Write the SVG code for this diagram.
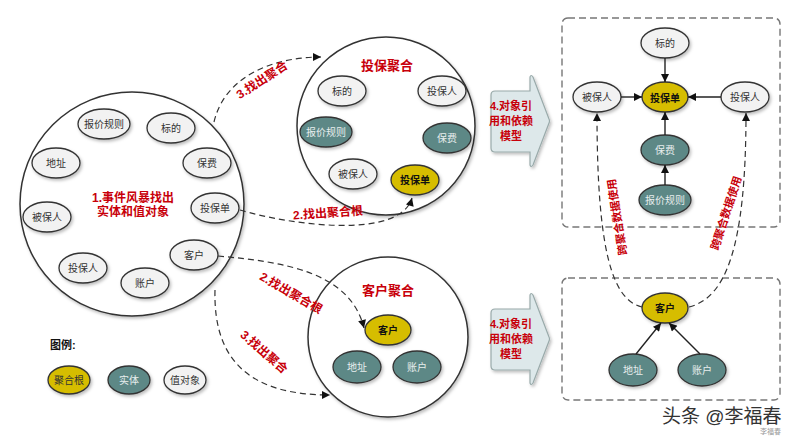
<svg xmlns="http://www.w3.org/2000/svg" width="800" height="438" viewBox="0 0 800 438">
<defs>
<filter id="sh" x="-20%" y="-20%" width="150%" height="150%">
<feDropShadow dx="1.5" dy="2" stdDeviation="1.5" flood-color="#000" flood-opacity="0.25"/>
</filter>
<marker id="arr" viewBox="0 0 10 10" refX="10" refY="5" markerWidth="9" markerHeight="8" markerUnits="userSpaceOnUse" orient="auto">
<path d="M0,0 L10,5 L0,10 z" fill="#111"/>
</marker>
<style>
text{font-family:"Liberation Sans","Noto Sans CJK SC",sans-serif;text-anchor:middle}
.v{fill:#f2f2f2;stroke:#333;stroke-width:1.3}
.e{fill:#5d8886;stroke:#333;stroke-width:1.3}
.r{fill:#d6bd00;stroke:#333;stroke-width:1.3}
.t{font-size:10px;fill:#333}
.te{font-size:10px;fill:#e8eeee}
.tr{font-size:10px;fill:#111;font-weight:bold}
.big{fill:#fff;stroke:#333;stroke-width:1.5}
.red{fill:#c8000a;font-weight:bold}
.dash{fill:none;stroke:#333;stroke-width:1.2;stroke-dasharray:6 4}
.solid{fill:none;stroke:#222;stroke-width:1.4}
.box{fill:#fff;stroke:#777;stroke-width:1.4;stroke-dasharray:7 4}
.pent{fill:#dde8ea;stroke:#9aa;stroke-width:1.2}
</style>
</defs>
<rect width="800" height="438" fill="#fff"/>

<!-- Big event storming circle -->
<g id="event-storm">
<circle class="big" cx="132" cy="204" r="112" filter="url(#sh)"/>
<text class="red" x="133" y="202" font-size="12">1.事件风暴找出</text>
<text class="red" x="133" y="216" font-size="12">实体和值对象</text>
</g>
<g id="es-baojiaguize"><ellipse class="v" cx="104" cy="124" rx="26" ry="15" filter="url(#sh)"/><text class="t" x="104" y="128">报价规则</text></g>
<g id="es-biaodi"><ellipse class="v" cx="171" cy="128" rx="24" ry="15" filter="url(#sh)"/><text class="t" x="171" y="132">标的</text></g>
<g id="es-dizhi"><ellipse class="v" cx="56" cy="163" rx="24" ry="15" filter="url(#sh)"/><text class="t" x="56" y="167">地址</text></g>
<g id="es-baofei"><ellipse class="v" cx="207" cy="163" rx="24" ry="15" filter="url(#sh)"/><text class="t" x="207" y="167">保费</text></g>
<g id="es-beibaoren"><ellipse class="v" cx="47" cy="217" rx="24" ry="15" filter="url(#sh)"/><text class="t" x="47" y="221">被保人</text></g>
<g id="es-toubaodan"><ellipse class="v" cx="215" cy="208" rx="24" ry="15" filter="url(#sh)"/><text class="t" x="215" y="212">投保单</text></g>
<g id="es-kehu"><ellipse class="v" cx="194" cy="255" rx="24" ry="15" filter="url(#sh)"/><text class="t" x="194" y="259">客户</text></g>
<g id="es-toubaoren"><ellipse class="v" cx="83" cy="268" rx="24" ry="15" filter="url(#sh)"/><text class="t" x="83" y="272">投保人</text></g>
<g id="es-zhanghu"><ellipse class="v" cx="145" cy="283" rx="24" ry="15" filter="url(#sh)"/><text class="t" x="145" y="287">账户</text></g>

<!-- Policy aggregate -->
<g id="policy-aggregate">
<circle class="big" cx="386" cy="126" r="89" filter="url(#sh)"/>
<text class="red" x="387" y="70" font-size="13">投保聚合</text>
</g>
<g id="pa-biaodi"><ellipse class="v" cx="342" cy="91" rx="24" ry="15" filter="url(#sh)"/><text class="t" x="342" y="95">标的</text></g>
<g id="pa-toubaoren"><ellipse class="v" cx="442" cy="91" rx="24" ry="15" filter="url(#sh)"/><text class="t" x="442" y="95">投保人</text></g>
<g id="pa-baojiaguize"><ellipse class="e" cx="326" cy="132" rx="26" ry="15" filter="url(#sh)"/><text class="te" x="326" y="136">报价规则</text></g>
<g id="pa-baofei"><ellipse class="e" cx="447" cy="138" rx="24" ry="15" filter="url(#sh)"/><text class="te" x="447" y="142">保费</text></g>
<g id="pa-beibaoren"><ellipse class="v" cx="353" cy="174" rx="24" ry="15" filter="url(#sh)"/><text class="t" x="353" y="178">被保人</text></g>
<g id="pa-toubaodan"><ellipse class="r" cx="415" cy="180" rx="24" ry="15" filter="url(#sh)"/><text class="tr" x="415" y="184">投保单</text></g>

<!-- Customer aggregate -->
<g id="customer-aggregate">
<circle class="big" cx="388" cy="337" r="80" filter="url(#sh)"/>
<text class="red" x="388" y="295" font-size="13">客户聚合</text>
</g>
<g id="ca-kehu"><ellipse class="r" cx="388" cy="330" rx="23" ry="15" filter="url(#sh)"/><text class="tr" x="388" y="334">客户</text></g>
<g id="ca-dizhi"><ellipse class="e" cx="357" cy="367" rx="24" ry="16" filter="url(#sh)"/><text class="te" x="357" y="371">地址</text></g>
<g id="ca-zhanghu"><ellipse class="e" cx="417" cy="367" rx="24" ry="16" filter="url(#sh)"/><text class="te" x="417" y="371">账户</text></g>

<!-- Step 4 arrows -->
<g id="step4-top">
<path class="pent" d="M495,91 L530,91 L530,77 Q531,74 533,77 L549,119 Q550,121 549,123 L533,165 Q531,168 530,165 L530,152 L495,152 Q491,152 491,148 L491,95 Q491,91 495,91 Z" filter="url(#sh)"/>
<text class="red" x="511" y="110" font-size="11">4.对象引</text>
<text class="red" x="511" y="125" font-size="11">用和依赖</text>
<text class="red" x="511" y="140" font-size="11">模型</text>
</g>
<g id="step4-bottom">
<path class="pent" d="M495,309 L530,309 L530,295 Q531,292 533,295 L549,337 Q550,339 549,341 L533,383 Q531,386 530,383 L530,370 L495,370 Q491,370 491,366 L491,313 Q491,309 495,309 Z" filter="url(#sh)"/>
<text class="red" x="511" y="328" font-size="11">4.对象引</text>
<text class="red" x="511" y="343" font-size="11">用和依赖</text>
<text class="red" x="511" y="358" font-size="11">模型</text>
</g>

<!-- Dependency model boxes -->
<g id="policy-model-box"><rect class="box" x="562" y="18" width="218" height="209" rx="6"/></g>
<g id="customer-model-box"><rect class="box" x="562" y="278" width="218" height="122" rx="6"/></g>

<g id="m-biaodi"><ellipse class="v" cx="665" cy="43" rx="24" ry="15" filter="url(#sh)"/><text class="t" x="665" y="47">标的</text></g>
<g id="m-toubaodan"><ellipse class="r" cx="665" cy="97" rx="23" ry="15" filter="url(#sh)"/><text class="tr" x="665" y="102" font-size="13">投保单</text></g>
<g id="m-beibaoren"><ellipse class="v" cx="597" cy="97" rx="24" ry="15" filter="url(#sh)"/><text class="t" x="597" y="101">被保人</text></g>
<g id="m-toubaoren"><ellipse class="v" cx="745" cy="97" rx="24" ry="15" filter="url(#sh)"/><text class="t" x="745" y="101">投保人</text></g>
<g id="m-baofei"><ellipse class="e" cx="665" cy="150" rx="24" ry="15" filter="url(#sh)"/><text class="te" x="665" y="154">保费</text></g>
<g id="m-baojiaguize"><ellipse class="e" cx="665" cy="200" rx="26" ry="15" filter="url(#sh)"/><text class="te" x="665" y="204">报价规则</text></g>

<g id="m-kehu"><ellipse class="r" cx="665" cy="308" rx="23" ry="15" filter="url(#sh)"/><text class="tr" x="665" y="312" font-size="11">客户</text></g>
<g id="m-dizhi"><ellipse class="e" cx="633" cy="370" rx="24" ry="16" filter="url(#sh)"/><text class="te" x="633" y="374">地址</text></g>
<g id="m-zhanghu"><ellipse class="e" cx="702" cy="370" rx="24" ry="16" filter="url(#sh)"/><text class="te" x="702" y="374">账户</text></g>

<!-- Connectors -->
<g id="connectors">
<path class="dash" d="M214,122 C225,75 275,57 321,57" marker-end="url(#arr)"/>
<path class="dash" d="M240,210 C290,225 400,240 412,198" marker-end="url(#arr)"/>
<path class="dash" d="M218,256 C285,262 350,272 364,328" marker-end="url(#arr)"/>
<path class="dash" d="M215,290 C213,365 255,395 330,395" marker-end="url(#arr)"/>

<line class="solid" x1="665" y1="58" x2="665" y2="82" marker-end="url(#arr)"/>
<line class="solid" x1="621" y1="97" x2="642" y2="97" marker-end="url(#arr)"/>
<line class="solid" x1="721" y1="97" x2="688" y2="97" marker-end="url(#arr)"/>
<line class="solid" x1="665" y1="135" x2="665" y2="112" marker-end="url(#arr)"/>
<line class="solid" x1="665" y1="185" x2="665" y2="165" marker-end="url(#arr)"/>

<line class="solid" x1="636" y1="354" x2="661" y2="323" marker-end="url(#arr)"/>
<line class="solid" x1="700" y1="354" x2="669" y2="323" marker-end="url(#arr)"/>

<path class="dash" d="M642,307 C612,300 597,250 597,113" marker-end="url(#arr)"/>
<path class="dash" d="M689,307 C725,298 746,250 746,113" marker-end="url(#arr)"/>

<text class="red" font-size="12" transform="translate(262,80) rotate(-33)" y="4">3.找出聚合</text>
<text class="red" font-size="12" transform="translate(328,213) rotate(-4)" y="4">2.找出聚合根</text>
<text class="red" font-size="12" transform="translate(291,293) rotate(30)" y="4">2.找出聚合根</text>
<text class="red" font-size="12" transform="translate(264,352) rotate(41)" y="4">3.找出聚合</text>
<text class="red" font-size="11" transform="translate(617,217) rotate(-99)" y="4">跨聚合数据使用</text>
<text class="red" font-size="11" transform="translate(726,213) rotate(-72)" y="4">跨聚合数据使用</text>
</g>

<!-- Legend -->
<g id="legend">
<text x="50" y="349" font-size="11" font-weight="bold" fill="#111" style="text-anchor:start">图例:</text>
</g>
<g id="legend-root"><ellipse class="r" cx="69" cy="380" rx="21" ry="14" filter="url(#sh)"/><text class="t" x="69" y="384" fill="#222">聚合根</text></g>
<g id="legend-entity"><ellipse class="e" cx="129" cy="380" rx="21" ry="14" filter="url(#sh)"/><text class="te" x="129" y="384">实体</text></g>
<g id="legend-value"><ellipse class="v" cx="185" cy="380" rx="21" ry="14" filter="url(#sh)"/><text class="t" x="185" y="384">值对象</text></g>

<!-- Watermark -->
<g id="watermark">
<text x="662" y="423" font-size="19" fill="#333" stroke="#fff" stroke-width="3" paint-order="stroke" style="text-anchor:start">头条 @李福春</text>
<text x="781" y="434" font-size="7" fill="#999" style="text-anchor:end">李福春</text>
</g>
</svg>
